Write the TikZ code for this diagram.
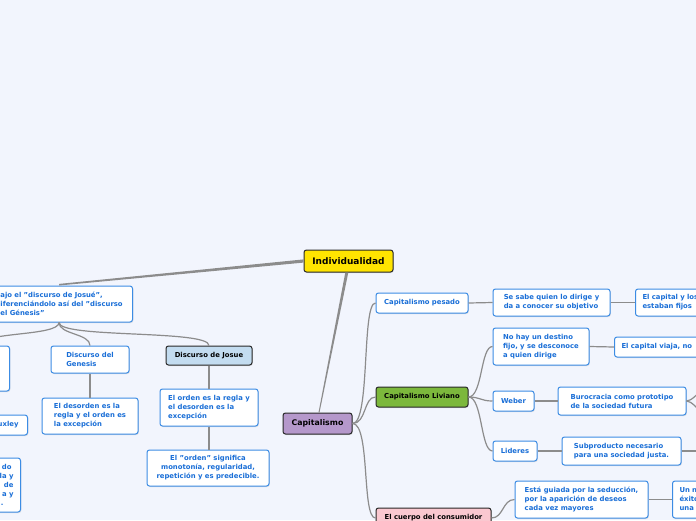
\documentclass[tikz,border=0pt]{standalone}
\usepackage{fontspec}
\setmainfont{DejaVu Sans}
\usetikzlibrary{shadows,calc}
\definecolor{bg}{RGB}{242,245,253}
\definecolor{yel}{RGB}{255,228,0}
\definecolor{purp}{RGB}{181,152,203}
\definecolor{grn}{RGB}{124,184,60}
\definecolor{lblue}{RGB}{195,220,240}
\definecolor{pnk}{RGB}{250,200,208}
\definecolor{bborder}{RGB}{60,140,228}
\definecolor{btext}{RGB}{25,110,215}
\definecolor{dk}{RGB}{40,40,40}
\definecolor{lgray}{RGB}{140,140,140}
\newcommand\sq{\char34{}}
\tikzset{
  base/.style={rounded corners=2.5pt, line width=1pt, align=left, inner xsep=7pt, inner ysep=3pt,
    drop shadow={opacity=0.22, shadow xshift=0.8pt, shadow yshift=-1pt},
    font=\bfseries\fontsize{6.85}{9}\selectfont},
  leaf/.style={base, draw=bborder, fill=white, text=btext},
  dark/.style={base, draw=dk, text=black},
  conn/.style={draw=lgray, line width=1.2pt},
  thick conn/.style={fill=lgray}
}
\begin{document}
\begin{tikzpicture}[x=1pt,y=-1pt]
\useasboundingbox (0,0) rectangle (696,520);
\fill[bg] (0,0) rectangle (696,520);
\clip (0,0) rectangle (696,520);

% central nodes
\node[dark, fill=yel, minimum width=89pt, minimum height=22pt, font=\bfseries\fontsize{9}{11}\selectfont] (ind) at (348.5,261) {Individualidad};
\node[dark, fill=purp, minimum width=69pt, minimum height=21pt, font=\bfseries\fontsize{7.8}{9}\selectfont] (cap) at (317.5,423.5) {Capitalismo};

% left side
\node[leaf, anchor=east, text width=125pt, minimum height=36pt] (lb) at (133,304) {ajo el \sq discurso de Josué\sq,\\iferenciándolo así del \sq discurso\\el Génesis\sq};
\node[leaf, anchor=east, minimum width=60pt, minimum height=45pt] (ba) at (10,368.5) {};
\node[leaf, anchor=east, minimum height=20pt, align=right] (hux) at (28,425) {uxley\hspace*{2pt}};
\node[leaf, anchor=east, minimum height=54pt, align=right] (bc) at (21,485) {do\hspace*{2pt}\\la y\\de\hspace*{1pt}\\a y\hspace*{4pt}\\.\hspace*{10pt}};
\node[leaf, minimum width=78pt, minimum height=27pt] (gen) at (90,359.5) {Discurso del\\Genesis};
\node[leaf, minimum width=96pt, minimum height=36pt] (des) at (90,416) {El desorden es la\\regla y el orden es\\la excepción};
\node[dark, fill=lblue, minimum width=86pt, minimum height=19pt] (jos) at (209,355.5) {Discurso de Josue};
\node[leaf, minimum width=98pt, minimum height=37pt] (ord) at (209,407.5) {El orden es la regla y\\el desorden es la\\excepción};
\node[leaf, align=center, minimum width=122pt, minimum height=36pt] (sig) at (208,468) {El \sq orden\sq{} significa\\monotonía, regularidad,\\repetición y es predecible.};

% right side
\node[leaf, minimum width=92pt, minimum height=20pt] (cp) at (422,303) {Capitalismo pesado};
\node[leaf, minimum width=117pt, minimum height=27pt] (sab) at (551.5,302.5) {Se sabe quien lo dirige y\\da a conocer su objetivo};
\node[leaf, anchor=west, text width=120pt, minimum height=27pt] (fij) at (635,302.5) {El capital y los\\estaban fijos};
\node[leaf, minimum width=96pt, minimum height=37pt] (noh) at (541,346.5) {No hay un destino\\fijo, y se desconoce\\a quien dirige};
\node[leaf, anchor=west, text width=120pt, minimum height=20pt] (via) at (614,347) {El capital viaja, no};
\node[dark, fill=grn, minimum width=92pt, minimum height=20pt] (cl) at (422,397) {Capitalismo Liviano};
\node[leaf, minimum width=41pt, minimum height=20pt] (web) at (513.5,401) {Weber};
\node[leaf, minimum width=128pt, minimum height=28pt] (bur) at (622,401) {Burocracia como prototipo\\de la sociedad futura};
\node[leaf, minimum width=44pt, minimum height=20pt] (lid) at (515,451) {Lideres};
\node[leaf, minimum width=119pt, minimum height=28pt] (sub) at (621.5,451) {Subproducto necesario\\para una sociedad justa.};
\node[dark, fill=pnk, minimum width=115pt, minimum height=20pt] (cue) at (433.5,518) {El cuerpo del consumidor};
\node[leaf, minimum width=133pt, minimum height=37pt] (gui) at (581.5,499.5) {Está guiada por la seducción,\\por la aparición de deseos\\cada vez mayores};
\node[leaf, anchor=west, text width=120pt, minimum height=37pt] (unn) at (672,499.5) {Un n\\éxito\\una};

% free ends
\coordinate (lbb) at ($(lb.south west)+(66,0)$);
\coordinate (lbt) at ($(lb.north west)+(66,0)$);
\coordinate (burup) at (722,372);
\coordinate (burdn) at (722,432);
\coordinate (subr) at (710,451);

% tapered main connectors
\path[thick conn] ($(ind.south)+(-3.2,0)$) -- ($(ind.south)+(-0.2,0)$) -- ($(cap.north)+(2,0)$) -- ($(cap.north)+(1,0)$) -- cycle;
\path[thick conn] ($(ind.west)+(0,1.6)$) -- ($(ind.west)+(0,-1.6)$) -- ($(lbt)+(0,-1.6)$) -- ($(lbt)+(0,0)$) -- cycle;

% left connectors
\draw[conn] (lbb) .. controls +(0,12) and +(0,-12) .. (gen.north);
\draw[conn] (lbb) .. controls +(0,16) and +(0,-16) .. (jos.north);
\draw[conn] (lbb) .. controls +(0,14) and +(0,-14) .. (ba.north);
\draw[conn] (gen.south) -- (gen.south |- des.north);
\draw[conn] (jos.south) -- (jos.south |- ord.north);
\draw[conn] (ord.south) -- (ord.south |- sig.north);

% right connectors
\draw[conn] (cap.east) .. controls +(18,0) and +(-14,0) .. (cp.west);
\draw[conn] (cap.east) .. controls +(14,0) and +(-12,0) .. (cl.west);
\draw[conn] (cap.east) .. controls +(18,0) and +(-14,0) .. (cue.west);
\draw[conn] (cp.east) -- (sab.west);
\draw[conn] (sab.east) -- (fij.west);
\draw[conn] (cl.east) .. controls +(14,0) and +(-12,0) .. (noh.west);
\draw[conn] (cl.east) .. controls +(12,0) and +(-12,0) .. (web.west);
\draw[conn] (cl.east) .. controls +(14,0) and +(-12,0) .. (lid.west);
\draw[conn] (noh.east) -- (via.west);
\draw[conn] (web.east) -- (bur.west);
\draw[conn] (lid.east) -- (sub.west);
\draw[conn] (bur.east) .. controls +(10,0) and +(-10,0) .. (burup);
\draw[conn] (bur.east) .. controls +(10,0) and +(-10,0) .. (burdn);
\draw[conn] (sub.east) -- (subr);
\draw[conn] (cue.east) .. controls +(12,0) and +(-12,0) .. (gui.west);
\draw[conn] (gui.east) -- (unn.west);
\end{tikzpicture}
\end{document}
